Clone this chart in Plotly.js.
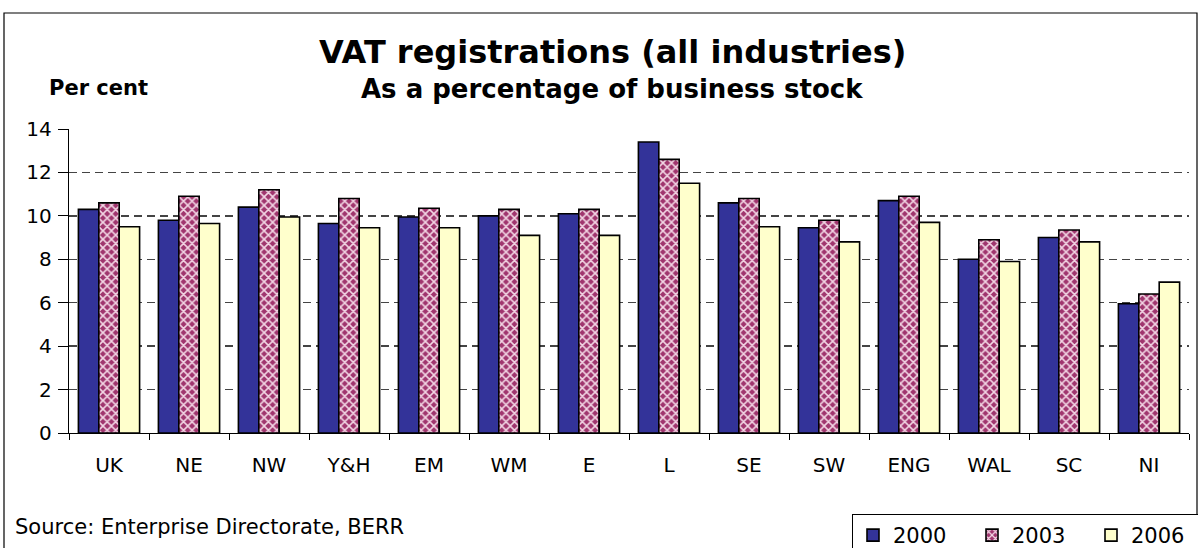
<!DOCTYPE html>
<html>
<head>
<meta charset="utf-8">
<script src="https://cdn.plot.ly/plotly-3.0.1.min.js"></script>
<style>
html,body{margin:0;padding:0;background:#fff;}
#chart{width:1198px;height:548px;}
</style>
</head>
<body>
<div id="chart"></div>
<script>
const categories = ["UK","NE","NW","Y&H","EM","WM","E","L","SE","SW","ENG","WAL","SC","NI"];
const v2000 = [10.3, 9.8, 10.4, 9.65, 9.95, 10.0, 10.1, 13.4, 10.6, 9.45, 10.7, 8.0, 9.0, 5.95];
const v2003 = [10.6, 10.9, 11.2, 10.8, 10.35, 10.3, 10.3, 12.6, 10.8, 9.8, 10.9, 8.9, 9.35, 6.4];
const v2006 = [9.5, 9.65, 9.95, 9.45, 9.45, 9.1, 9.1, 11.5, 9.5, 8.8, 9.7, 7.9, 8.8, 6.95];
const seriesNames = ["2000","2003","2006"];
const yTicks = [0,2,4,6,8,10,12,14];

const W = 1198, H = 548;
const L = 69, R = 9, T = 129, B = 115;
const pw = W - L - R, ph = H - T - B;
const px = x => (x - L) / pw;
const py = y => (H - B - y) / ph;

const line = {color:'#000', width:1.6};
const traces = [
  {type:'bar', name:seriesNames[0], x:categories, y:v2000,
   marker:{color:'#333399', line:line}},
  {type:'bar', name:seriesNames[1], x:categories, y:v2003,
   marker:{color:'#a0356e', line:line,
     pattern:{shape:'x', fgcolor:'#f2d6e4', bgcolor:'#a0356e', size:6, solidity:0.45}}},
  {type:'bar', name:seriesNames[2], x:categories, y:v2006,
   marker:{color:'#ffffcc', line:line}}
];

const font = 'DejaVu Sans, Arial, sans-serif';
const layout = {
  width:W, height:H,
  margin:{l:L, r:R, t:T, b:B, pad:0, autoexpand:false},
  paper_bgcolor:'#fff', plot_bgcolor:'#fff',
  barmode:'group', bargap:0.235, bargroupgap:0,
  font:{family:font, color:'#000', size:20},
  showlegend:true,
  legend:{orientation:'h', x:px(852), y:py(514), xanchor:'left', yanchor:'top',
    bordercolor:'#000', borderwidth:1, bgcolor:'#fff',
    font:{size:21, family:font}, itemwidth:30, entrywidth:74, traceorder:'normal',
    tracegroupgap:0},
  xaxis:{type:'category', showgrid:false, showline:true, linecolor:'#000', linewidth:1.2,
    ticks:'outside', tickson:'boundaries', ticklen:6, tickcolor:'#000',
    tickfont:{size:20, family:font}, fixedrange:true, ticklabelstandoff:14},
  yaxis:{range:[0,14], tickvals:yTicks, ticktext:yTicks.map(String),
    showgrid:true, gridcolor:'#444', griddash:'8px,5px', gridwidth:1.3,
    zeroline:false, showline:true, linecolor:'#000', linewidth:1.2,
    ticks:'outside', ticklen:10, tickcolor:'#000',
    tickfont:{size:20, family:font}, fixedrange:true, ticklabelstandoff:2},
  shapes:[
    {type:'rect', xref:'paper', yref:'paper', x0:px(4), x1:px(1197), y0:py(560), y1:py(13),
     line:{color:'#000', width:1.2}, fillcolor:'rgba(0,0,0,0)', layer:'below'}
  ],
  annotations:[
    {text:'<b>VAT registrations (all industries)</b>', xref:'paper', yref:'paper',
     x:px(612), y:py(52), showarrow:false, xanchor:'center', yanchor:'middle',
     font:{size:32, family:font}},
    {text:'<b>As a percentage of business stock</b>', xref:'paper', yref:'paper',
     x:px(612), y:py(89), showarrow:false, xanchor:'center', yanchor:'middle',
     font:{size:26, family:font}},
    {text:'<b>Per cent</b>', xref:'paper', yref:'paper',
     x:px(47), y:py(88), showarrow:false, xanchor:'left', yanchor:'middle',
     font:{size:21, family:font}},
    {text:'Source: Enterprise Directorate, BERR', xref:'paper', yref:'paper',
     x:px(13), y:py(527), showarrow:false, xanchor:'left', yanchor:'middle',
     font:{size:21, family:font}}
  ]
};

Plotly.newPlot('chart', traces, layout, {displayModeBar:false, staticPlot:true});
</script>
</body>
</html>
